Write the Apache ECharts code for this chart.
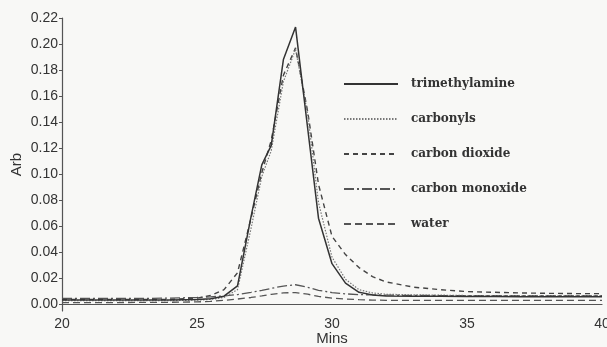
<!DOCTYPE html>
<html>
<head>
<meta charset="utf-8">
<script src="https://cdn.jsdelivr.net/npm/echarts@6/dist/echarts.min.js"></script>
<style>
  html, body { margin: 0; padding: 0; background: #f8f8f6; }
  #chart { width: 607px; height: 347px; }
</style>
</head>
<body>
<div id="chart"></div>
<script>
// sample times (mins), shared by every trace
const mins = [20, 21, 22, 23, 24, 25, 25.5, 26, 26.5, 27, 27.4, 27.75, 28.2, 28.65, 29.1, 29.5,
  30, 30.5, 31, 31.5, 32, 33, 34, 35, 36, 37, 38, 39, 40];

const trimethylamine = [0.003, 0.003, 0.003, 0.003, 0.003, 0.0035, 0.004, 0.006, 0.014, 0.067, 0.107, 0.122, 0.188, 0.213, 0.135, 0.066,
  0.031, 0.016, 0.009, 0.007, 0.0062, 0.006, 0.006, 0.0058, 0.0058, 0.0056, 0.0056, 0.0055, 0.0055];
const carbonyls = [0.0025, 0.0025, 0.0025, 0.0025, 0.0025, 0.003, 0.0035, 0.005, 0.011, 0.058, 0.098, 0.118, 0.171, 0.196, 0.146, 0.078,
  0.036, 0.019, 0.011, 0.0085, 0.0075, 0.007, 0.0068, 0.0065, 0.0065, 0.0065, 0.0065, 0.0065, 0.0065];
const carbonDioxide = [0.0035, 0.0035, 0.0035, 0.0035, 0.0035, 0.0045, 0.0065, 0.011, 0.024, 0.066, 0.101, 0.126, 0.176, 0.197, 0.148, 0.092,
  0.052, 0.038, 0.028, 0.021, 0.017, 0.013, 0.011, 0.0095, 0.009, 0.0085, 0.0082, 0.008, 0.008];
const carbonMonoxide = [0.0042, 0.0042, 0.0043, 0.0043, 0.0045, 0.005, 0.0055, 0.0062, 0.0072, 0.009, 0.0105, 0.012, 0.0138, 0.0148, 0.0128, 0.0105,
  0.0088, 0.0078, 0.0072, 0.007, 0.0068, 0.0066, 0.0065, 0.0065, 0.0065, 0.0065, 0.0065, 0.0065, 0.0065];
const water = [0.001, 0.001, 0.0011, 0.0012, 0.0013, 0.0016, 0.002, 0.0028, 0.0038, 0.005, 0.0062, 0.0074, 0.0085, 0.0088, 0.0075, 0.0058,
  0.0045, 0.0038, 0.0033, 0.003, 0.0028, 0.0028, 0.0028, 0.0028, 0.0028, 0.0028, 0.0028, 0.0028, 0.0028];

const yTicks = [0, 0.02, 0.04, 0.06, 0.08, 0.10, 0.12, 0.14, 0.16, 0.18, 0.20, 0.22];
const xTicks = [20, 25, 30, 35, 40];

const pair = vals => mins.map((m, i) => [m, vals[i]]);

function line(name, vals, color, width, type) {
  return {
    name: name,
    type: 'line',
    data: pair(vals),
    symbol: 'none',
    silent: true,
    lineStyle: { color: color, width: width, type: type },
    itemStyle: { color: color }
  };
}

const chart = echarts.init(document.getElementById('chart'));
chart.setOption({
  backgroundColor: '#f8f8f6',
  animation: false,
  grid: { left: 62, right: 5, top: 18, bottom: 36, outerBoundsMode: 'none' },
  legend: {
    orient: 'vertical',
    left: 343,
    top: 78,
    padding: 0,
    itemWidth: 54,
    itemHeight: 14,
    itemGap: 23,
    itemStyle: { opacity: 0 },
    textStyle: {
      fontFamily: 'DejaVu Serif', fontWeight: 'bold', fontSize: 12, color: '#333',
      padding: [0, 0, 0, 8]
    },
    data: ['trimethylamine', 'carbonyls', 'carbon dioxide', 'carbon monoxide', 'water']
  },
  xAxis: {
    type: 'value',
    min: 20,
    max: 40,
    interval: 5,
    name: 'Mins',
    nameLocation: 'middle',
    nameMoveOverlap: false,
    nameGap: 20,
    nameTextStyle: { fontFamily: 'Liberation Sans', fontSize: 15, color: '#333' },
    axisLine: { lineStyle: { color: '#555', width: 1.2 } },
    axisTick: { show: false },
    splitLine: { show: false },
    axisLabel: {
      customValues: xTicks,
      margin: 6,
      fontFamily: 'Liberation Sans', fontSize: 14, color: '#333'
    }
  },
  yAxis: {
    type: 'value',
    min: -0.0054,
    max: 0.22,
    name: 'Arb',
    nameLocation: 'middle',
    nameMoveOverlap: false,
    nameGap: 38,
    nameTextStyle: { fontFamily: 'Liberation Sans', fontSize: 15, color: '#333' },
    axisLine: { show: true, lineStyle: { color: '#555', width: 1.2 } },
    axisTick: { show: true, customValues: yTicks, length: 3, lineStyle: { color: '#555' } },
    splitLine: { show: false },
    axisLabel: {
      customValues: yTicks,
      margin: 4,
      formatter: v => v.toFixed(2),
      fontFamily: 'Liberation Sans', fontSize: 14, color: '#333'
    }
  },
  series: [
    line('water', water, '#555', 1.3, [7, 4]),
    line('carbon monoxide', carbonMonoxide, '#555', 1.3, [10, 3, 2, 3]),
    line('carbon dioxide', carbonDioxide, '#444', 1.4, [5, 4]),
    line('carbonyls', carbonyls, '#777', 1.2, [1.5, 1.5]),
    line('trimethylamine', trimethylamine, '#333', 1.5, 'solid')
  ]
});
</script>
</body>
</html>
